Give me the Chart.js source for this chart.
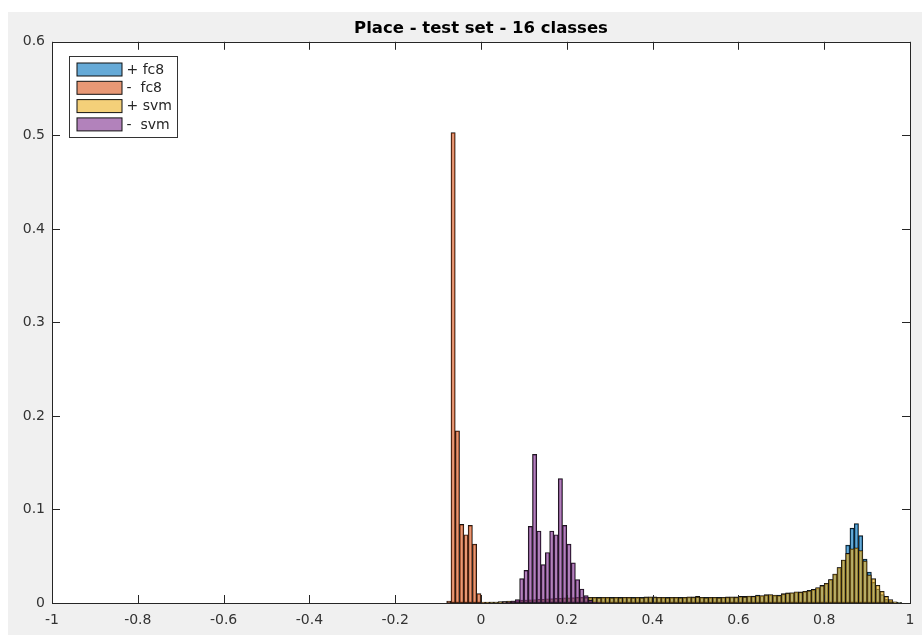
<!DOCTYPE html>
<html>
<head>
<meta charset="utf-8">
<script src="https://cdn.jsdelivr.net/npm/chart.js@4"></script>
<style>
  html, body { margin: 0; padding: 0; background: #fff; }
  #wrap { width: 922px; height: 635px; }
</style>
</head>
<body>
<div id="wrap"><canvas id="hist" width="922" height="635"></canvas></div>
<script>
const binWidth = 0.01;

// bin values, each series starts at the left edge given by its *Start
const posFc8Start = 0.0;
const posFc8 = [
  0.0005, 0.0005, 0.001, 0.001, 0.001, 0.0015, 0.0015, 0.002, 0.002, 0.0025,
  0.003, 0.003, 0.0035, 0.0035, 0.004, 0.004, 0.0045, 0.0045, 0.005, 0.005,
  0.005, 0.0055, 0.0055, 0.0055, 0.006, 0.006, 0.0055, 0.006, 0.0055, 0.0055,
  0.006, 0.0055, 0.006, 0.006, 0.0055, 0.006, 0.0055, 0.006, 0.0065, 0.006,
  0.0065, 0.006, 0.0055, 0.006, 0.0055, 0.0055, 0.006, 0.0055, 0.006, 0.0065,
  0.007, 0.006, 0.006, 0.0055, 0.006, 0.006, 0.006, 0.0065, 0.006, 0.0065,
  0.0065, 0.007, 0.007, 0.0075, 0.0085, 0.0075, 0.009, 0.0085, 0.008, 0.0085,
  0.010, 0.011, 0.011, 0.0115, 0.012, 0.012, 0.0135, 0.014, 0.016, 0.019,
  0.021, 0.025, 0.031, 0.038, 0.046, 0.062, 0.080, 0.085, 0.072, 0.047,
  0.033, 0.022, 0.015, 0.009, 0.004, 0.002, 0.001, 0.0008
];

const negFc8Start = -0.08;
const negFc8 = [0.002, 0.503, 0.184, 0.084, 0.073, 0.083, 0.063, 0.010, 0.001, 0.0005];

const posSvmStart = 0.0;
const posSvm = [
  0.0005, 0.001, 0.001, 0.001, 0.0015, 0.0015, 0.002, 0.002, 0.0025, 0.003,
  0.003, 0.0035, 0.0035, 0.004, 0.004, 0.0045, 0.0045, 0.005, 0.005, 0.0055,
  0.0055, 0.0055, 0.006, 0.006, 0.0055, 0.006, 0.006, 0.0055, 0.006, 0.006,
  0.0055, 0.006, 0.0055, 0.006, 0.006, 0.0055, 0.006, 0.0055, 0.006, 0.0065,
  0.006, 0.006, 0.006, 0.0055, 0.006, 0.006, 0.0055, 0.006, 0.0065, 0.006,
  0.0065, 0.006, 0.0055, 0.006, 0.006, 0.0055, 0.006, 0.006, 0.0065, 0.006,
  0.007, 0.0065, 0.0075, 0.007, 0.008, 0.008, 0.0085, 0.009, 0.0085, 0.008,
  0.0095, 0.0105, 0.011, 0.012, 0.0115, 0.0125, 0.013, 0.0145, 0.0165, 0.0185,
  0.021, 0.025, 0.031, 0.038, 0.046, 0.053, 0.058, 0.059, 0.056, 0.045,
  0.030, 0.026, 0.019, 0.0125, 0.007, 0.0036, 0.0012, 0.0005
];

const negSvmStart = 0.05;
const negSvm = [
  0.0005, 0.001, 0.002, 0.0036, 0.026, 0.035, 0.082, 0.159, 0.077, 0.041,
  0.054, 0.077, 0.073, 0.133, 0.083, 0.063, 0.043, 0.025, 0.015, 0.008,
  0.003, 0.001, 0.0005
];

const seriesLabels = ['+ fc8', '-  fc8', '+ svm', '-  svm'];
const xTicks = [-1, -0.8, -0.6, -0.4, -0.2, 0, 0.2, 0.4, 0.6, 0.8, 1];
const yTicks = [0, 0.1, 0.2, 0.3, 0.4, 0.5, 0.6];

const axisColor = '#262626';
const font = 'DejaVu Sans';

const toBins = (start, values) => values.map((v, i) => ({
  x: Math.round((start + (i + 0.5) * binWidth) * 1000) / 1000,
  y: v,
}));

function histSet(label, start, values, color, order) {
  return {
    label,
    data: toBins(start, values),
    backgroundColor: color,
    borderColor: '#111',
    borderWidth: 0.8,
    borderSkipped: false,
    barPercentage: 1,
    categoryPercentage: 1,
    grouped: false,
    order,
  };
}

const background = {
  id: 'background',
  beforeDraw(chart) {
    const { ctx, chartArea: a } = chart;
    ctx.save();
    ctx.fillStyle = '#fff';
    ctx.fillRect(0, 0, chart.width, chart.height);
    ctx.fillStyle = '#f0f0f0';
    ctx.fillRect(8, 12, chart.width - 8, chart.height - 12);
    ctx.fillStyle = '#fff';
    ctx.fillRect(a.left, a.top, a.right - a.left, a.bottom - a.top);
    ctx.restore();
  },
};

const frame = {
  id: 'frame',
  afterDraw(chart) {
    const { ctx, chartArea: a, scales } = chart;
    const tl = 8;
    ctx.save();
    ctx.strokeStyle = axisColor;
    ctx.lineWidth = 1;
    ctx.beginPath();
    xTicks.forEach(t => {
      const px = Math.round(scales.x.getPixelForValue(t)) + 0.5;
      ctx.moveTo(px, a.bottom); ctx.lineTo(px, a.bottom - tl);
      ctx.moveTo(px, a.top); ctx.lineTo(px, a.top + tl);
    });
    yTicks.forEach(t => {
      const py = Math.round(scales.y.getPixelForValue(t)) + 0.5;
      ctx.moveTo(a.left, py); ctx.lineTo(a.left + tl, py);
      ctx.moveTo(a.right, py); ctx.lineTo(a.right - tl, py);
    });
    ctx.stroke();
    ctx.strokeRect(Math.round(a.left) + 0.5, Math.round(a.top) + 0.5,
      Math.round(a.right - a.left), Math.round(a.bottom - a.top));

    // legend box, upper left inside the axes
    const lx = Math.round(a.left) + 17.5;
    const ly = Math.round(a.top) + 14.5;
    ctx.fillStyle = '#fff';
    ctx.fillRect(lx, ly, 108, 81);
    ctx.strokeStyle = '#333';
    ctx.strokeRect(lx, ly, 108, 81);
    ctx.font = `14px "${font}"`;
    ctx.textBaseline = 'middle';
    chart.data.datasets.forEach((ds, i) => {
      const sy = ly + 6.5 + i * 18.3;
      ctx.fillStyle = ds.backgroundColor;
      ctx.fillRect(lx + 7.5, sy, 45, 13);
      ctx.strokeStyle = '#111';
      ctx.strokeRect(lx + 7.5, sy, 45, 13);
      ctx.fillStyle = axisColor;
      ctx.fillText(ds.label, lx + 57, sy + 7);
    });
    ctx.restore();
  },
};

const plainTick = v => String(Math.round(v * 10) / 10);

new Chart(document.getElementById('hist'), {
  type: 'bar',
  data: {
    datasets: [
      histSet(seriesLabels[0], posFc8Start, posFc8, 'rgba(0,114,189,0.6)', 4),
      histSet(seriesLabels[1], negFc8Start, negFc8, 'rgba(217,83,25,0.6)', 3),
      histSet(seriesLabels[2], posSvmStart, posSvm, 'rgba(237,177,32,0.6)', 2),
      histSet(seriesLabels[3], negSvmStart, negSvm, 'rgba(126,47,142,0.6)', 1),
    ],
  },
  options: {
    responsive: false,
    animation: false,
    devicePixelRatio: 1,
    layout: { padding: { left: 0, right: 12, top: 0, bottom: 0 } },
    plugins: {
      legend: { display: false },
      tooltip: { enabled: false },
      title: {
        display: true,
        text: 'Place - test set - 16 classes',
        fullSize: false,
        color: '#000',
        font: { family: font, size: 16.5, weight: 'bold' },
        padding: { top: 19, bottom: 3 },
      },
    },
    scales: {
      x: {
        type: 'linear',
        min: -1,
        max: 1,
        offset: false,
        afterBuildTicks: s => { s.ticks = xTicks.map(v => ({ value: v })); },
        afterFit: s => { s.height = 32; s.paddingLeft = 0; s.paddingRight = 0; },
        grid: { display: false, drawTicks: false },
        border: { display: false },
        ticks: {
          color: '#333',
          font: { family: font, size: 14 },
          padding: 9,
          maxRotation: 0,
          autoSkip: false,
          callback: plainTick,
        },
      },
      y: {
        min: 0,
        max: 0.6,
        afterBuildTicks: s => { s.ticks = yTicks.map(v => ({ value: v })); },
        afterFit: s => { s.width = 52; s.paddingTop = 0; s.paddingBottom = 0; },
        grid: { display: false, drawTicks: false },
        border: { display: false },
        ticks: {
          color: '#333',
          font: { family: font, size: 14 },
          padding: 7,
          callback: plainTick,
        },
      },
    },
  },
  plugins: [background, frame],
});
</script>
</body>
</html>
